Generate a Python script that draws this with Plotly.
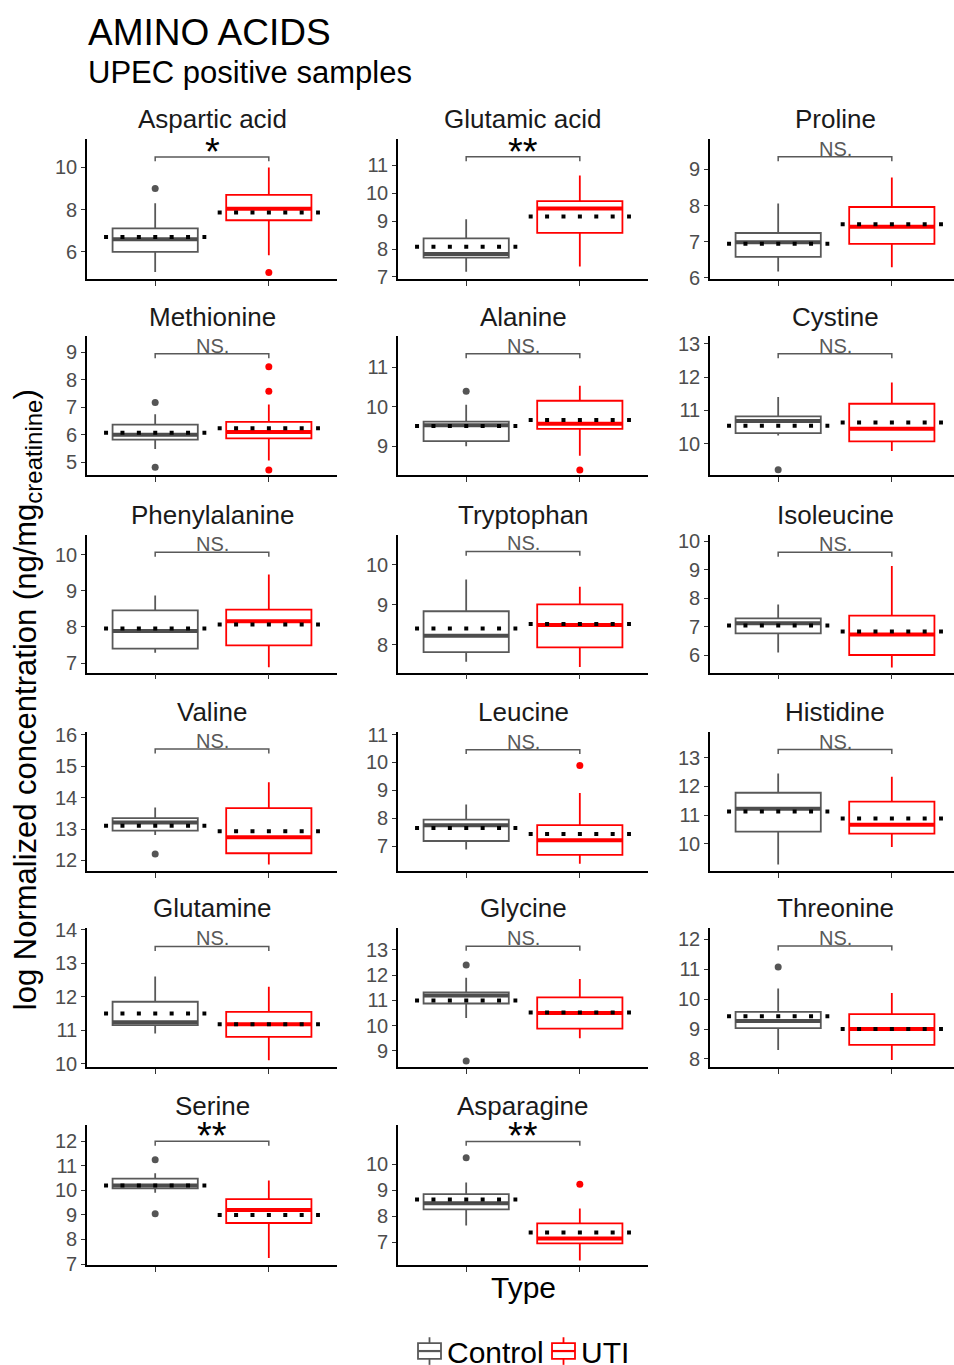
import plotly.graph_objects as go

# ---- data -------------------------------------------------------------
panels = ["Aspartic acid", "Glutamic acid", "Proline",
          "Methionine", "Alanine", "Cystine",
          "Phenylalanine", "Tryptophan", "Isoleucine",
          "Valine", "Leucine", "Histidine",
          "Glutamine", "Glycine", "Threonine",
          "Serine", "Asparagine"]

# Control group box statistics
ctrl_q1 = [6.00, 7.69, 6.58, 5.83, 9.13, 10.32, 7.40, 7.82, 6.76, 12.95, 7.18, 10.42, 11.15, 10.88, 9.03, 10.08, 8.27]
ctrl_med = [6.60, 7.82, 6.98, 6.00, 9.53, 10.68, 7.89, 8.23, 7.12, 13.21, 7.75, 11.22, 11.24, 11.20, 9.27, 10.20, 8.50]
ctrl_q3 = [7.12, 8.38, 7.24, 6.37, 9.62, 10.82, 8.46, 8.84, 7.29, 13.35, 7.95, 11.78, 11.85, 11.32, 9.57, 10.48, 8.85]
ctrl_lo = [5.05, 7.19, 6.17, 5.49, 9.00, 10.25, 7.29, 7.58, 6.09, 12.81, 6.88, 9.27, 10.90, 10.30, 8.30, 9.90, 7.65]
ctrl_hi = [8.30, 9.06, 8.06, 6.75, 10.05, 11.40, 8.87, 9.63, 7.78, 13.69, 8.49, 12.45, 12.60, 11.90, 10.35, 10.70, 9.30]
ctrl_mean = [6.71, 8.08, 6.94, 6.08, 9.51, 10.54, 7.96, 8.41, 7.04, 13.11, 7.65, 11.12, 11.50, 11.00, 9.43, 10.20, 8.65]
ctrl_out = [[9.0], [], [], [7.17, 4.83], [10.39], [9.22], [], [], [], [12.21], [], [], [], [12.4, 8.6], [11.07], [11.25, 9.05], [10.25]]

# UTI group box statistics
uti_q1 = [7.50, 8.58, 6.94, 5.87, 9.44, 10.07, 7.49, 7.94, 6.00, 12.23, 6.68, 10.35, 10.80, 9.88, 8.47, 8.67, 6.96]
uti_med = [8.05, 9.45, 7.41, 6.10, 9.57, 10.45, 8.16, 8.50, 6.72, 12.74, 7.21, 10.66, 11.18, 10.50, 9.00, 9.20, 7.15]
uti_q3 = [8.70, 9.71, 7.96, 6.47, 10.15, 11.20, 8.48, 9.01, 7.39, 13.67, 7.75, 11.47, 11.55, 11.12, 9.50, 9.64, 7.73]
uti_lo = [5.84, 7.37, 6.29, 5.07, 8.76, 9.78, 6.89, 7.45, 5.56, 11.87, 6.36, 9.88, 10.10, 9.50, 7.97, 7.25, 6.30]
uti_hi = [10.00, 10.63, 8.78, 7.10, 10.53, 11.84, 9.45, 9.45, 9.13, 14.49, 8.90, 12.34, 12.30, 11.85, 10.20, 10.40, 8.30]
uti_mean = [7.87, 9.16, 7.48, 6.24, 9.66, 10.64, 8.07, 8.52, 6.83, 12.93, 7.43, 10.88, 11.18, 10.52, 9.00, 9.00, 7.38]
uti_out = [[5.03], [], [], [8.47, 7.58, 4.73], [8.4], [], [], [], [], [], [9.89], [], [], [], [], [], [9.23]]

# significance bracket height and label
bracket_y = [10.5, 11.3, 9.35, 8.94, 11.34, 12.7, 10.06, 10.33, 9.62, 15.55, 10.46, 13.29, 13.5, 13.15, 11.77, 12.0, 10.88]
sig_label = ["*", "**", "NS.", "NS.", "NS.", "NS.", "NS.", "NS.", "NS.", "NS.", "NS.", "NS.", "NS.", "NS.", "NS.", "**", "**"]

# y-axis ranges and ticks per panel
y_ranges = [[4.71, 11.34], [6.92, 11.93], [5.96, 9.84], [4.53, 9.57], [8.26, 11.78], [9.05, 13.22],
            [6.74, 10.55], [7.31, 10.75], [5.38, 10.24], [11.67, 16.1], [6.11, 11.1], [9.05, 13.91],
            [9.9, 14.05], [8.36, 13.87], [7.73, 12.37], [6.95, 12.65], [6.12, 11.5]]
y_ticks = [[6, 8, 10], [7, 8, 9, 10, 11], [6, 7, 8, 9], [5, 6, 7, 8, 9], [9, 10, 11], [10, 11, 12, 13],
           [7, 8, 9, 10], [8, 9, 10], [6, 7, 8, 9, 10], [12, 13, 14, 15, 16], [7, 8, 9, 10, 11], [10, 11, 12, 13],
           [10, 11, 12, 13, 14], [9, 10, 11, 12, 13], [8, 9, 10, 11, 12], [7, 8, 9, 10, 11, 12], [7, 8, 9, 10]]

groups = ["Control", "UTI"]

# ---- layout geometry (pixels) -----------------------------------------
W, H = 954, 1365
col_px = [(87, 337), (398, 648), (710, 954)]
row_px = [(132, 274), (332, 473), (533, 673), (733, 874), (932, 1073), (1132, 1274)]
PX_PER_UNIT = 250 / 2.2

FONT = "Liberation Sans, Arial, sans-serif"
GREY = "#595959"
RED = "#ff0000"
GROUP_COLORS = [GREY, RED]
BOX_W = 0.75
MEAN_HALF = 0.45


def px_x(x):
    return x / W


def px_y(y):
    return 1 - y / H


fig = go.Figure()
layout_axes = {}
annotations = []
shapes = []

for i, name in enumerate(panels):
    r, c = divmod(i, 3)
    k = i + 1
    xa, ya = f"x{k}", f"y{k}"
    x0, x1 = col_px[c]
    yt, yb = row_px[r]
    xr = [0.4, 0.4 + (x1 - x0) / PX_PER_UNIT]

    stats = [
        (1, ctrl_q1[i], ctrl_med[i], ctrl_q3[i], ctrl_lo[i], ctrl_hi[i], ctrl_mean[i], ctrl_out[i]),
        (2, uti_q1[i], uti_med[i], uti_q3[i], uti_lo[i], uti_hi[i], uti_mean[i], uti_out[i]),
    ]
    for gi, (pos, q1, med, q3, lo, hi, mean, outs) in enumerate(stats):
        col = GROUP_COLORS[gi]
        fig.add_trace(go.Box(
            x=[pos], q1=[q1], median=[med], q3=[q3], lowerfence=[lo], upperfence=[hi],
            width=BOX_W, whiskerwidth=0, boxpoints=False,
            line=dict(color=col, width=1.8), fillcolor="white",
            name=groups[gi], showlegend=False,
            xaxis=xa, yaxis=ya, hoverinfo="skip"))
        # thick median bar
        fig.add_trace(go.Scatter(
            x=[pos - BOX_W / 2, pos + BOX_W / 2], y=[med, med], mode="lines",
            line=dict(color="#4d4d4d" if gi == 0 else col, width=4),
            showlegend=False, xaxis=xa, yaxis=ya, hoverinfo="skip"))
        # dotted mean line
        fig.add_trace(go.Scatter(
            x=[pos - MEAN_HALF, pos + MEAN_HALF], y=[mean, mean], mode="lines",
            line=dict(color="black", width=4, dash="4px,12.4px"),
            showlegend=False, xaxis=xa, yaxis=ya, hoverinfo="skip"))
        if outs:
            fig.add_trace(go.Scatter(
                x=[pos] * len(outs), y=outs, mode="markers",
                marker=dict(color="#555555" if gi == 0 else col, size=7),
                showlegend=False, xaxis=xa, yaxis=ya, hoverinfo="skip"))

    # significance bracket
    span = y_ranges[i][1] - y_ranges[i][0]
    drop = 4.5 * span / (yb - yt)
    b = bracket_y[i]
    fig.add_trace(go.Scatter(
        x=[1, 1, 2, 2], y=[b - drop, b, b, b - drop], mode="lines",
        line=dict(color=GREY, width=1.5), showlegend=False,
        xaxis=xa, yaxis=ya, hoverinfo="skip"))
    if sig_label[i] == "NS.":
        annotations.append(dict(x=1.5, y=b, xref=xa, yref=ya, text="NS.", showarrow=False,
                                yanchor="bottom", yshift=-5,
                                font=dict(family=FONT, size=20, color=GREY)))
    else:
        annotations.append(dict(x=1.5, y=b, xref=xa, yref=ya, text=sig_label[i], showarrow=False,
                                yanchor="bottom", yshift=-18,
                                font=dict(family=FONT, size=38, color="black")))

    # panel title
    annotations.append(dict(x=px_x(x0 + 125), y=px_y(yt - 20), xref="paper", yref="paper",
                            text=name, showarrow=False, xanchor="center", yanchor="middle",
                            font=dict(family=FONT, size=26, color="#1a1a1a")))

    layout_axes[f"xaxis{k}"] = dict(
        domain=[px_x(x0), px_x(x1)], anchor=ya, range=xr, tickvals=[1, 2], showticklabels=False,
        ticks="outside", ticklen=5, tickwidth=1.2, tickcolor="#333333",
        showline=True, linecolor="black", linewidth=1.6, showgrid=False, zeroline=False, fixedrange=True)
    layout_axes[f"yaxis{k}"] = dict(
        domain=[px_y(yb), px_y(yt)], anchor=xa, range=y_ranges[i], tickvals=y_ticks[i],
        ticks="outside", ticklen=4, tickwidth=1.2, tickcolor="#333333",
        tickfont=dict(family=FONT, size=20, color="#4d4d4d"),
        showline=True, linecolor="black", linewidth=1.6, showgrid=False, zeroline=False, fixedrange=True)

# figure-level text
annotations += [
    dict(x=px_x(86), y=px_y(24), xref="paper", yref="paper", text="AMINO ACIDS", showarrow=False,
         xanchor="left", yanchor="middle", font=dict(family=FONT, size=37, color="black")),
    dict(x=px_x(86), y=px_y(64), xref="paper", yref="paper", text="UPEC positive samples", showarrow=False,
         xanchor="left", yanchor="middle", font=dict(family=FONT, size=31, color="black")),
    dict(x=px_x(28), y=px_y(701), xref="paper", yref="paper",
         text="log Normalized concentration (ng/mg<sub><span style='font-size:24px'>creatinine</span></sub>)",
         showarrow=False, textangle=-90, xanchor="center", yanchor="middle",
         font=dict(family=FONT, size=31, color="black")),
    dict(x=px_x(523), y=px_y(1297), xref="paper", yref="paper", text="Type", showarrow=False,
         xanchor="center", yanchor="middle", font=dict(family=FONT, size=30, color="black")),
]

# legend keys drawn as small boxplot glyphs
legend_keys = [(418, 441, "Control", 445), (552, 575, "UTI", 579)]
LEG_Y = 1361
for gi, (lx0, lx1, label, tx) in enumerate(legend_keys):
    col = GROUP_COLORS[gi]
    mid = (lx0 + lx1) / 2
    shapes += [
        dict(type="line", xref="paper", yref="paper", x0=px_x(mid), x1=px_x(mid),
             y0=px_y(LEG_Y - 14), y1=px_y(LEG_Y + 14), line=dict(color=col, width=1.8)),
        dict(type="rect", xref="paper", yref="paper", x0=px_x(lx0), x1=px_x(lx1),
             y0=px_y(LEG_Y + 8), y1=px_y(LEG_Y - 8), fillcolor="white", line=dict(color=col, width=1.8)),
        dict(type="line", xref="paper", yref="paper", x0=px_x(lx0), x1=px_x(lx1),
             y0=px_y(LEG_Y), y1=px_y(LEG_Y), line=dict(color=col, width=2.2)),
    ]
    annotations.append(dict(x=px_x(tx), y=px_y(LEG_Y + 1), xref="paper", yref="paper", text=label,
                            showarrow=False, xanchor="left", yanchor="middle",
                            font=dict(family=FONT, size=30, color="black")))

fig.update_layout(
    width=W, height=H, margin=dict(l=0, r=0, t=0, b=0),
    paper_bgcolor="white", plot_bgcolor="white",
    font=dict(family=FONT),
    showlegend=False,
    annotations=annotations,
    shapes=shapes,
    **layout_axes,
)

fig.write_html("out.html")
